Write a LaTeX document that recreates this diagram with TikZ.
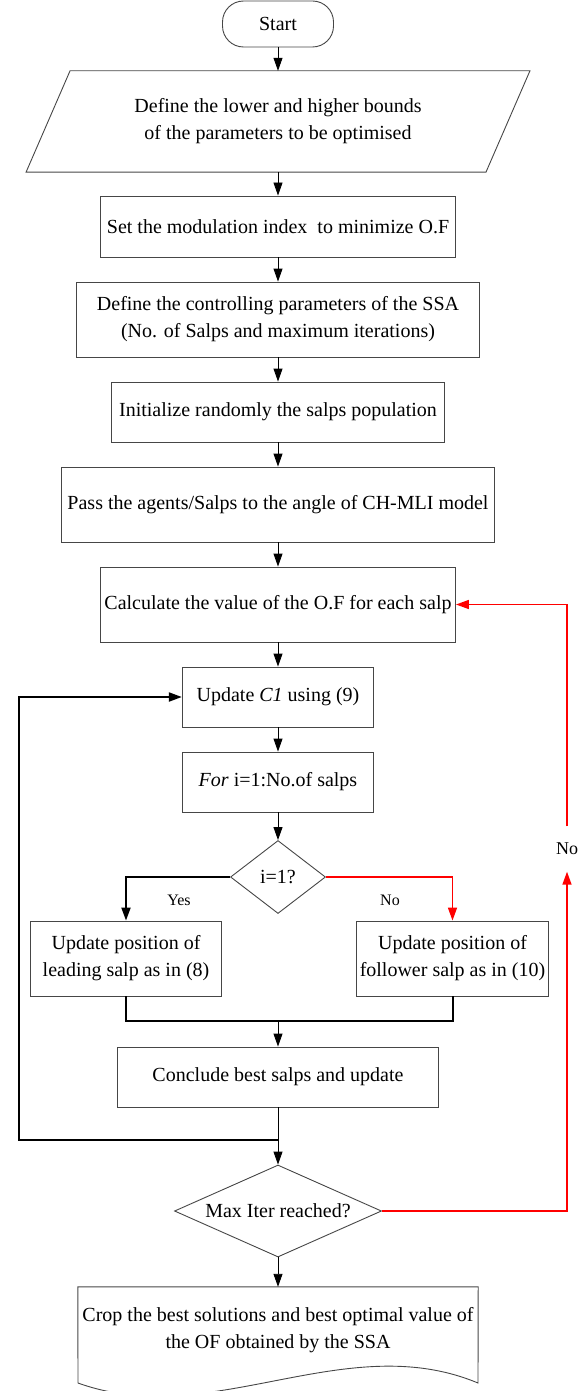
\documentclass[tikz,border=0pt]{standalone}
\usepackage{fontspec}
\setmainfont{Liberation Serif}
\usetikzlibrary{shapes,arrows,positioning,calc}
\usetikzlibrary{shapes.geometric,shapes.misc}
\usetikzlibrary{arrows.meta}
\definecolor{loopred}{RGB}{255,0,0}
\definecolor{edgegray}{RGB}{70,70,70}
\newcommand{\boxfont}{\fontsize{20}{27}\selectfont}
\newcommand{\tagfont}{\fontsize{16}{19}\selectfont}

\begin{document}
\begin{tikzpicture}[
    x=1pt, y=-1pt,
    stepbox/.style={rectangle, draw=edgegray, line width=0.9pt, inner sep=0pt, align=center, font=\boxfont},
    termbox/.style={stepbox, rounded corners=21pt},
    decision/.style={diamond, draw=edgegray, line width=0.9pt, inner sep=0pt, align=center, font=\boxfont},
    flow/.style={-{Triangle[length=13pt,width=9pt]}, line width=0.9pt},
    heavy/.style={line width=2pt},
    noloop/.style={loopred, line width=1.6pt},
    tag/.style={font=\tagfont, inner sep=0pt}
]

\useasboundingbox (0,0) rectangle (587,1391);

% Start and input
\node[termbox, minimum width=111, minimum height=46] (start) at (278,24) {Start};
\node[font=\boxfont, align=center, inner sep=0pt, minimum width=459.5, minimum height=101] (bounds) at (278,121.5) {Define the lower and higher bounds\\of the parameters to be optimised};
\draw[draw=edgegray, line width=0.9pt] ($(bounds.north west)+(22,0)$) -- ($(bounds.north east)+(22,0)$) -- ($(bounds.south east)+(-22,0)$) -- ($(bounds.south west)+(-22,0)$) -- cycle;

% Set-up steps
\node[stepbox, minimum width=355, minimum height=61] (modidx) at (278,226.5) {Set the modulation index~ to minimize O.F};
\node[stepbox, minimum width=402.4, minimum height=75] (ctrl) at (278,319.5) {Define the controlling parameters of the SSA\\(No. of Salps and maximum iterations)};
\node[stepbox, minimum width=332.3, minimum height=60] (init) at (278,412) {Initialize randomly the salps population};
\node[stepbox, minimum width=433.7, minimum height=75] (pass) at (278,504.5) {Pass the agents/Salps to the angle of CH-MLI model};
\node[stepbox, minimum width=355, minimum height=75] (calc) at (278,604.5) {Calculate the value of the O.F for each salp};

% Inner loop
\node[stepbox, minimum width=191.4, minimum height=60] (updc) at (278,697) {Update \textit{C1} using (9)};
\node[stepbox, minimum width=191.4, minimum height=60] (loopfor) at (278,782) {\textit{For} i=1:No.of salps};
\node[decision, aspect=1.3, minimum width=95, minimum height=73] (cond) at (278,877) {i=1?};
\node[stepbox, minimum width=191.4, minimum height=75] (lead) at (126,958.5) {Update position of\\leading salp as in (8)};
\node[stepbox, minimum width=191.4, minimum height=75] (foll) at (452.5,958.5) {Update position of\\follower salp as in (10)};
\node[stepbox, minimum width=321.4, minimum height=60] (concl) at (278,1077) {Conclude best salps and update};

% Stop test and output
\node[decision, aspect=2.25, minimum width=207, minimum height=92] (maxit) at (278,1211) {Max Iter reached?};
\node[font=\boxfont, align=center, inner sep=0pt, minimum width=400, minimum height=86] (crop) at (278,1330) {Crop the best solutions and best optimal value of\\the OF obtained by the SSA};
\draw[draw=edgegray, line width=0.9pt] (crop.north west) -- (crop.north east) -- (478,1383) .. controls (345,1327.5) and (211,1431) .. (78,1383) -- cycle;

% Labels
\node[tag] (yestag) at (179,900) {Yes};
\node[tag] (notag) at (390,900) {No};
\node[font=\fontsize{18}{21}\selectfont, inner sep=0pt, minimum height=45] (nolbl) at (567,849) {No};

% Junction points
\coordinate (mj) at (278,1021);
\coordinate (jn) at (278,1140);
\coordinate (lcorner) at (19,1140);

% Main flow
\draw[flow] (start.south) -- (bounds.north);
\draw[flow] (bounds.south) -- (modidx.north);
\draw[flow] (modidx.south) -- (ctrl.north);
\draw[flow] (ctrl.south) -- (init.north);
\draw[flow] (init.south) -- (pass.north);
\draw[flow] (pass.south) -- (calc.north);
\draw[flow] (calc.south) -- (updc.north);
\draw[flow] (updc.south) -- (loopfor.north);
\draw[flow] (loopfor.south) -- (cond.north);

% Branches
\draw[flow, heavy] (cond.west) -| (lead.north);
\draw[flow, noloop] (cond.east) -| (foll.north);
\draw[heavy] (lead.south) |- (mj) -| (foll.south);
\draw[flow] (mj) -- (concl.north);
\draw[line width=0.9pt] (concl.south) -- (jn);
\draw[flow] (jn) -- (maxit.north);
\draw[flow] (maxit.south) -- (crop.north);

% Loops back
\draw[flow, heavy] (jn) -- (lcorner) |- (updc.west);
\draw[flow, noloop] (maxit.east) -| (nolbl.south);
\draw[flow, noloop] (nolbl.north) |- (calc.east);

\end{tikzpicture}
\end{document}
